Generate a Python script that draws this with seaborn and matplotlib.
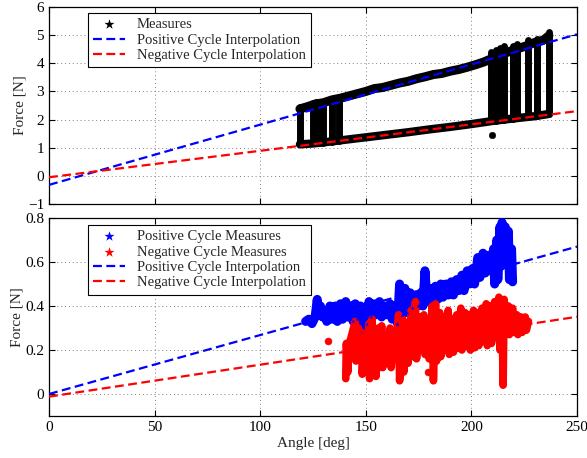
import matplotlib
matplotlib.use('Agg')
import matplotlib.pyplot as plt
import seaborn as sns

# --- interpolation lines (end points) ---
interp_angle = [0, 250]
top_pos_fit = [-0.32, 5.03]
top_neg_fit = [-0.05, 2.30]
bot_pos_fit = [0.0, 0.67]
bot_neg_fit = [-0.012, 0.351]

# --- top panel: measured hysteresis loop ---
top_upper_angle = [118.8, 122, 126, 130, 134, 138, 142, 146, 150, 154, 158, 162, 166, 170,
                   174, 178, 182, 186, 190, 194, 198, 202, 206, 210, 214, 218, 222, 226,
                   230, 234, 236.7]
top_upper_force = [2.38, 2.45, 2.55, 2.60, 2.70, 2.76, 2.84, 2.92, 3.00, 3.10, 3.14, 3.22,
                   3.30, 3.36, 3.45, 3.52, 3.60, 3.64, 3.72, 3.78, 3.86, 3.95, 4.05, 4.18,
                   4.30, 4.42, 4.52, 4.62, 4.74, 4.82, 4.98]
top_lower_angle = [118.8, 125, 130, 140, 150, 160, 170, 180, 190, 200, 210, 220, 230, 236.7]
top_lower_force = [1.12, 1.15, 1.19, 1.28, 1.37, 1.46, 1.55, 1.65, 1.74, 1.84, 1.95, 2.04,
                   2.12, 2.20]
col_angle = [118.8, 125, 126.5, 128, 129.5, 133.8, 137.5, 209.5, 211.5, 213.5, 215.5,
             219.5, 221.5, 227, 231, 236.7]
col_bottom = [1.12, 1.15, 1.16, 1.17, 1.18, 1.22, 1.25, 1.94, 1.96, 1.98, 2.00, 2.03,
              2.05, 2.10, 2.13, 2.20]
col_top = [2.45, 2.58, 2.62, 2.62, 2.64, 2.72, 2.76, 4.40, 4.48, 4.55, 4.62, 4.62, 4.70,
           4.82, 4.86, 5.10]
outlier_angle = [209.6]
outlier_force = [1.45]

# --- bottom panel: positive cycle measures ---
pos_angle = [121.5, 123.0, 124.5, 126.0, 127.0, 127.5, 128.5, 129.5, 130.5, 131.5, 133.0,
             134.0, 135.5, 136.5, 138.0, 139.0, 140.5, 141.5, 143.0, 144.0, 145.0, 146.0,
             147.5, 148.0, 149.0, 150.5, 151.5, 152.5, 154.0, 155.0, 156.5, 157.5, 159.0,
             160.0, 161.5, 162.5, 164.0, 165.0, 166.0, 167.0, 168.5, 169.5, 171.0, 172.0,
             173.5, 174.5, 176.0, 177.0, 178.0, 179.0, 180.5, 181.5, 183.0, 184.0, 185.5,
             186.5, 188.0, 189.0, 190.5, 191.5, 193.0, 194.0, 195.5, 196.5, 198.0, 199.0,
             200.5, 201.5, 203.0, 204.0, 205.5, 206.5, 208.0, 209.0, 210.5, 211.0, 212.0,
             212.5, 213.5, 214.0, 214.5, 215.0, 216.0, 216.5, 217.5, 218.0, 219.0, 219.5]
pos_force = [0.33, 0.34, 0.32, 0.35, 0.43, 0.36, 0.40, 0.35, 0.38, 0.33, 0.40,
             0.34, 0.40, 0.33, 0.41, 0.34, 0.42, 0.35, 0.40, 0.33, 0.41, 0.34,
             0.40, 0.28, 0.39, 0.32, 0.42, 0.35, 0.41, 0.36, 0.42, 0.35, 0.40,
             0.36, 0.41, 0.34, 0.40, 0.32, 0.50, 0.36, 0.48, 0.37, 0.46, 0.39,
             0.45, 0.40, 0.46, 0.40, 0.56, 0.42, 0.48, 0.43, 0.49, 0.43, 0.50,
             0.44, 0.50, 0.45, 0.51, 0.45, 0.52, 0.47, 0.54, 0.47, 0.56, 0.50,
             0.57, 0.50, 0.62, 0.53, 0.64, 0.55, 0.63, 0.56, 0.66, 0.50, 0.70,
             0.52, 0.76, 0.58, 0.78, 0.66, 0.76, 0.60, 0.74, 0.52, 0.66, 0.51]

# --- bottom panel: negative cycle measures ---
neg_angle = [140.5, 140.8, 141.5, 142.0, 145.0, 145.3, 146.5, 146.8, 148.0, 148.3, 149.5,
             149.8, 151.5, 151.8, 153.0, 153.3, 154.5, 154.8, 156.0, 156.3, 157.5, 158.0,
             159.5, 160.0, 161.5, 162.0, 163.5, 164.0, 165.5, 166.0, 167.5, 168.0, 169.5,
             170.0, 171.5, 172.0, 173.5, 174.0, 175.5, 176.0, 177.5, 178.0, 179.5, 180.0,
             181.5, 182.0, 183.0, 183.5, 185.0, 185.5, 187.0, 187.5, 189.0, 189.5, 191.0,
             191.5, 193.0, 193.5, 195.0, 195.5, 197.0, 197.5, 199.0, 199.5, 201.0, 201.5,
             203.0, 203.5, 205.0, 205.5, 207.0, 207.5, 209.0, 209.5, 211.0, 211.5, 213.0,
             213.5, 214.5, 215.0, 215.5, 216.0, 217.5, 218.0, 219.5, 220.0, 221.5, 222.0,
             223.5, 224.0, 225.5, 226.0, 227.0]
neg_force = [0.07, 0.23, 0.10, 0.22, 0.33, 0.15, 0.30, 0.17, 0.28, 0.09, 0.25,
             0.10, 0.32, 0.07, 0.34, 0.09, 0.28, 0.08, 0.30, 0.12, 0.31, 0.12,
             0.27, 0.15, 0.30, 0.12, 0.28, 0.17, 0.36, 0.06, 0.34, 0.10, 0.30,
             0.14, 0.38, 0.17, 0.42, 0.16, 0.35, 0.20, 0.36, 0.18, 0.34, 0.16,
             0.40, 0.06, 0.41, 0.15, 0.37, 0.17, 0.35, 0.20, 0.38, 0.18, 0.34,
             0.19, 0.36, 0.21, 0.39, 0.20, 0.37, 0.22, 0.36, 0.20, 0.38, 0.21,
             0.37, 0.22, 0.39, 0.24, 0.41, 0.22, 0.40, 0.23, 0.42, 0.26, 0.44,
             0.20, 0.40, 0.04, 0.43, 0.28, 0.40, 0.27, 0.39, 0.28, 0.36, 0.27,
             0.35, 0.28, 0.35, 0.29, 0.33]
neg_single_angle = [132.3, 179.6]
neg_single_force = [0.24, 0.10]

sns.set_style('white')
plt.rcParams['font.family'] = ['Liberation Serif', 'DejaVu Serif']
plt.rcParams['font.size'] = 11

fig = plt.figure(figsize=(5.87, 4.58), dpi=100)
ax_top = fig.add_axes([0.0835, 0.5546, 0.8995, 0.4301])
ax_bot = fig.add_axes([0.0835, 0.0917, 0.8995, 0.4323])

blue = (0, 0, 1)
red = (1, 0, 0)
cloud = dict(solid_capstyle='round', solid_joinstyle='round', zorder=3)
dash = dict(lw=1.6, dashes=(4, 2), zorder=4)
star = dict(marker='*', s=12, linewidth=0, zorder=3)

# top panel
ax_top.plot(top_upper_angle, top_upper_force, color='k', lw=6.5, **cloud)
ax_top.plot(top_lower_angle, top_lower_force, color='k', lw=6, **cloud)
ax_top.vlines(col_angle, col_bottom, col_top, color='k', lw=5, capstyle='round', zorder=3)
sns.scatterplot(x=outlier_angle, y=outlier_force, marker='o', s=22, color='k',
                edgecolor='k', ax=ax_top, zorder=3)
sns.scatterplot(x=top_lower_angle, y=top_lower_force, color='k', label='Measures',
                ax=ax_top, **star)
ax_top.plot(interp_angle, top_pos_fit, color=blue, label='Positive Cycle Interpolation', **dash)
ax_top.plot(interp_angle, top_neg_fit, color=red, label='Negative Cycle Interpolation', **dash)
ax_top.set_xlim(0, 250)
ax_top.set_ylim(-1, 6)
ax_top.set_yticks(range(-1, 7))
ax_top.set_xticks(range(0, 251, 50))
ax_top.set_xticklabels([])
ax_top.set_ylabel('Force [N]', labelpad=1)

# bottom panel
ax_bot.plot(pos_angle, pos_force, color=blue, lw=6.5, **cloud)
ax_bot.plot(neg_angle, neg_force, color=red, lw=5.5, **cloud)
sns.scatterplot(x=neg_single_angle, y=neg_single_force, marker='o', s=25, color=red,
                edgecolor=red, ax=ax_bot, zorder=3)
sns.scatterplot(x=pos_angle, y=pos_force, color=blue, label='Positive Cycle Measures',
                ax=ax_bot, **star)
sns.scatterplot(x=neg_angle, y=neg_force, color=red, label='Negative Cycle Measures',
                ax=ax_bot, **star)
ax_bot.plot(interp_angle, bot_pos_fit, color=blue, label='Positive Cycle Interpolation', **dash)
ax_bot.plot(interp_angle, bot_neg_fit, color=red, label='Negative Cycle Interpolation', **dash)
ax_bot.set_xlim(0, 250)
ax_bot.set_ylim(-0.1, 0.8)
ax_bot.set_yticks([0, 0.2, 0.4, 0.6, 0.8])
ax_bot.set_yticklabels(['0', '0.2', '0.4', '0.6', '0.8'])
ax_bot.set_xticks(range(0, 251, 50))
ax_bot.set_xlabel('Angle [deg]', labelpad=2)
ax_bot.set_ylabel('Force [N]', labelpad=1)

for ax, top in [(ax_top, 0.97), (ax_bot, 0.965)]:
    ax.grid(True, linestyle=(0, (1, 3)), color='0.5', lw=0.7)
    ax.tick_params(direction='in', top=True, right=True, bottom=True, left=True,
                   length=4, width=0.8, labelsize=11, colors='k')
    for s in ax.spines.values():
        s.set_color('k')
        s.set_linewidth(0.9)
    leg = ax.legend(loc='upper left', bbox_to_anchor=(0.074, top), borderaxespad=0,
                    fancybox=False, framealpha=1, edgecolor='k', fontsize=10.5,
                    labelspacing=0.15, handlelength=2.2, borderpad=0.35, markerscale=2.2)
    leg.get_frame().set_linewidth(0.8)
    leg.set_zorder(10)

fig.savefig('out.png', dpi=100)
